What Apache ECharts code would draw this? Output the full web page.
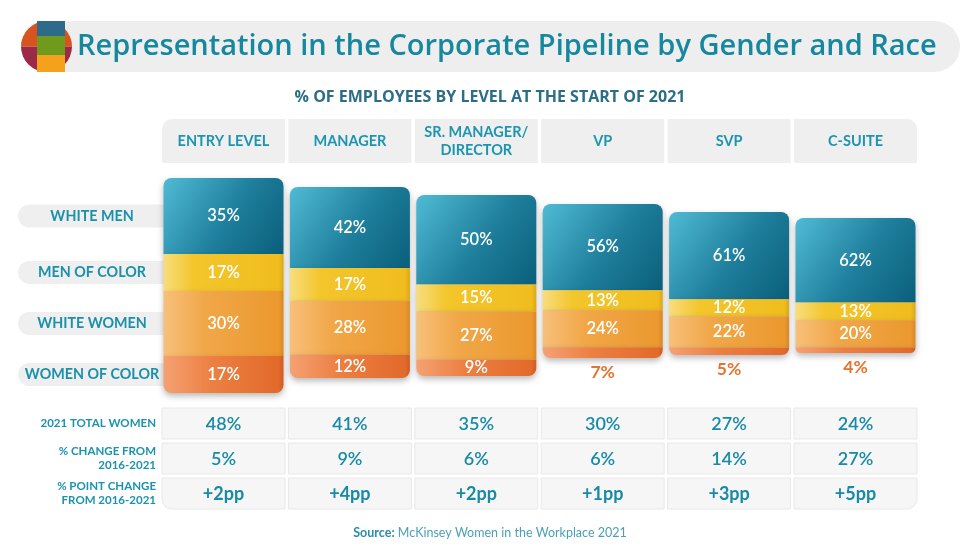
<!DOCTYPE html>
<html><head><meta charset="utf-8">
<script src="https://cdn.jsdelivr.net/npm/echarts@6/dist/echarts.min.js"></script>
<style>html,body{margin:0;padding:0;background:#fff}#c{width:980px;height:552px}</style>
</head><body><div id="c"></div>
<script>
// ---------- data ----------
const titleText = 'Representation in the Corporate Pipeline by Gender and Race';
const subtitleText = '% OF EMPLOYEES BY LEVEL AT THE START OF 2021';
const levels = ['ENTRY LEVEL', 'MANAGER', 'SR. MANAGER/\nDIRECTOR', 'VP', 'SVP', 'C-SUITE'];
const groups = ['WHITE MEN', 'MEN OF COLOR', 'WHITE WOMEN', 'WOMEN OF COLOR'];
const whiteMen     = [35, 42, 50, 56, 61, 62];
const menOfColor   = [17, 17, 15, 13, 12, 13];
const whiteWomen   = [30, 28, 27, 24, 22, 20];
const womenOfColor = [17, 12, 9, 7, 5, 4];
const tableRowLabels = ['2021 TOTAL WOMEN', '% CHANGE FROM\n2016-2021', '% POINT CHANGE\nFROM 2016-2021'];
const totalWomen = [48, 41, 35, 30, 27, 24];
const pctChange  = [5, 9, 6, 6, 14, 27];
const ppChange   = [2, 4, 2, 1, 3, 5];
const sourceLabel = 'Source:';
const sourceText = 'McKinsey Women in the Workplace 2021';

// ---------- layout / style ----------
const FONT = 'Lato';
const WIDE = '"Open Sans"';
const colLeft = i => 162 + i * 126.4;
const cellW = 123;
const barTop = [178, 187, 195, 204, 212, 218];
const barBottom = [393, 378, 376, 358, 355, 353];
const seriesValues = [whiteMen, menOfColor, whiteWomen, womenOfColor];
const G = echarts.graphic;
const fills = [
  new G.LinearGradient(0, 0, 1, 1, [{offset: 0, color: '#50bbd5'}, {offset: 0.55, color: '#1e7e9b'}, {offset: 1, color: '#0a5f7b'}]),
  new G.LinearGradient(0, 0, 1, 0, [{offset: 0, color: '#f8dd7e'}, {offset: 0.25, color: '#f3c62c'}, {offset: 0.96, color: '#f0bd1e'}, {offset: 1, color: '#dca61a'}]),
  new G.LinearGradient(0, 0, 1, 0, [{offset: 0, color: '#f7c07a'}, {offset: 0.35, color: '#f1a748'}, {offset: 0.96, color: '#eb992f'}, {offset: 1, color: '#d88824'}]),
  new G.LinearGradient(0, 0, 1, 0, [{offset: 0, color: '#f5a172'}, {offset: 0.4, color: '#ec8043'}, {offset: 0.96, color: '#e26a2a'}, {offset: 1, color: '#cf5c20'}])
];

const grids = [], xAxes = [], yAxes = [], series = [];
levels.forEach((lv, i) => {
  const total = seriesValues.reduce((s, arr) => s + arr[i], 0);
  grids.push({left: colLeft(i), width: cellW, top: barTop[i], height: barBottom[i] - barTop[i]});
  xAxes.push({type: 'category', gridIndex: i, data: [lv], show: false});
  yAxes.push({type: 'value', gridIndex: i, inverse: true, min: 0, max: total, show: false, splitLine: {show: false}});
  seriesValues.forEach((arr, g) => {
    const v = arr[i];
    const outside = v < 8;
    series.push({
      type: 'bar', name: groups[g], xAxisIndex: i, yAxisIndex: i, stack: 'c' + i,
      barWidth: 120,
      data: [v],
      itemStyle: {
        color: fills[g],
        borderRadius: g === 0 ? [8, 8, 0, 0] : (g === 3 ? [0, 0, 8, 8] : 0),
        shadowColor: 'rgba(0,0,0,0.28)', shadowBlur: 6, shadowOffsetY: 3
      },
      label: {
        show: true, formatter: '{c}%',
        position: outside ? 'bottom' : 'inside',
        distance: 5,
        color: outside ? '#e4732f' : '#ffffff',
        fontFamily: FONT, fontSize: outside ? 17.5 : 16.5, fontWeight: outside ? 'bold' : 600
      },
      emphasis: {disabled: true}
    });
  });
});

// graphics
const graphics = [];
// title pill + logo
graphics.push({type: 'rect', shape: {x: 40, y: 21, width: 920, height: 51, r: 25.5}, style: {fill: '#eeeeee'}});
graphics.push({type: 'sector', shape: {cx: 46.5, cy: 46.5, r: 25.5, startAngle: Math.PI, endAngle: 2 * Math.PI}, style: {fill: '#d9531f'}});
graphics.push({type: 'sector', shape: {cx: 46.5, cy: 46.5, r: 25.5, startAngle: 0, endAngle: Math.PI}, style: {fill: '#9c2946'}});
graphics.push({type: 'rect', shape: {x: 37, y: 21, width: 28, height: 15}, style: {fill: '#2e6b8b'}});
graphics.push({type: 'rect', shape: {x: 37, y: 36, width: 28, height: 19}, style: {fill: '#6f9a1c'}});
graphics.push({type: 'rect', shape: {x: 37, y: 55, width: 28, height: 17}, style: {fill: '#f6a11d'}});
graphics.push({type: 'text', x: 77, y: 47, style: {text: titleText, fill: '#15889f', font: '600 29px ' + WIDE, textVerticalAlign: 'middle'}});
graphics.push({type: 'text', x: 490, y: 97, style: {text: subtitleText, fill: '#2c6e86', font: 'bold 16px ' + WIDE, textAlign: 'center', textVerticalAlign: 'middle'}});

// header cells
levels.forEach((lv, i) => {
  const r = i === 0 ? [10, 0, 0, 0] : (i === levels.length - 1 ? [0, 10, 0, 0] : 0);
  graphics.push({type: 'rect', shape: {x: colLeft(i), y: 119, width: cellW, height: 44, r: r}, style: {fill: '#efefef'}});
  graphics.push({type: 'text', x: colLeft(i) + cellW / 2, y: 141, style: {text: lv, fill: '#1d95b0', font: 'bold 14.5px ' + FONT, textAlign: 'center', textVerticalAlign: 'middle', lineHeight: 18}});
});

// row labels aligned to entry-level segments
{
  const total0 = seriesValues.reduce((s, arr) => s + arr[0], 0);
  const h0 = barBottom[0] - barTop[0];
  let cum = 0;
  groups.forEach((g, k) => {
    const v = seriesValues[k][0];
    const yc = barTop[0] + (cum + v / 2) * h0 / total0;
    cum += v;
    graphics.push({type: 'rect', shape: {x: 18, y: yc - 11.5, width: 160, height: 23, r: 11.5}, style: {fill: '#efefef'}});
    graphics.push({type: 'text', x: 92, y: yc, style: {text: g, fill: '#1a90aa', font: 'bold 14.3px ' + FONT, textAlign: 'center', textVerticalAlign: 'middle'}});
  });
}

// bottom table
const tableRows = [totalWomen.map(v => v + '%'), pctChange.map(v => v + '%'), ppChange.map(v => '+' + v + 'pp')];
const rowTop = [408, 443, 478];
tableRows.forEach((row, r) => {
  graphics.push({type: 'text', x: 156, y: rowTop[r] + 15.5, style: {text: tableRowLabels[r], fill: '#1a93ad', font: 'bold 11.5px ' + FONT, textAlign: 'right', textVerticalAlign: 'middle', lineHeight: 13.5}});
  row.forEach((txt, i) => {
    let rad = 0;
    if (r === 2 && i === 0) rad = [0, 0, 0, 10];
    if (r === 2 && i === row.length - 1) rad = [0, 0, 10, 0];
    graphics.push({type: 'rect', shape: {x: colLeft(i), y: rowTop[r], width: cellW, height: 31, r: rad}, style: {fill: '#f6f6f6', stroke: '#e8e8e8', lineWidth: 1}});
    graphics.push({type: 'text', x: colLeft(i) + cellW / 2, y: rowTop[r] + 16, style: {text: txt, fill: '#178aa6', font: (r === 2 ? 'bold 18px ' : '600 18px ') + FONT, textAlign: 'center', textVerticalAlign: 'middle'}});
  });
});

// source
graphics.push({type: 'text', x: 490, y: 533, style: {
  text: '{b|' + sourceLabel + '} ' + sourceText,
  rich: {b: {font: 'bold 12.5px ' + FONT, fill: '#2a8fab'}},
  fill: '#4aa0b8', font: '12.5px ' + FONT, textAlign: 'center', textVerticalAlign: 'middle'}});

const chart = echarts.init(document.getElementById('c'), null, {renderer: 'canvas'});
chart.setOption({
  animation: false,
  backgroundColor: '#ffffff',
  grid: grids, xAxis: xAxes, yAxis: yAxes, series: series,
  graphic: {elements: graphics}
});
</script></body></html>
